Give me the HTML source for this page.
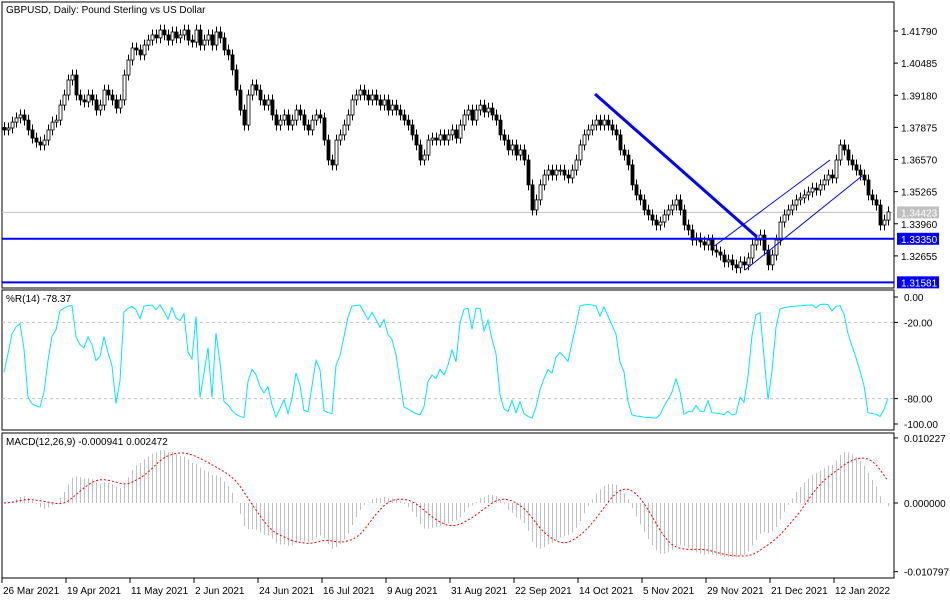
<!DOCTYPE html>
<html><head><meta charset="utf-8">
<style>
body{margin:0;background:#fff;}
svg{display:block;font-family:"Liberation Sans",sans-serif;font-size:10px;}
</style></head>
<body>
<svg id="c" width="950" height="600" viewBox="0 0 950 600" xmlns="http://www.w3.org/2000/svg">
<rect x="0" y="0" width="950" height="600" fill="#fff"/>
</svg>
<script>
const closes=[1.3777,1.3785,1.3809,1.3826,1.3838,1.3817,1.3777,1.3744,1.3728,1.3716,
1.3736,1.3777,1.3809,1.3817,1.3878,1.3919,1.3980,1.4000,1.3919,1.3899,
1.3891,1.3919,1.3899,1.3858,1.3878,1.3939,1.3919,1.3899,1.3866,1.3899,
1.4000,1.4061,1.4110,1.4102,1.4082,1.4122,1.4142,1.4163,1.4151,1.4183,
1.4163,1.4142,1.4175,1.4151,1.4163,1.4183,1.4142,1.4134,1.4183,1.4122,
1.4142,1.4163,1.4122,1.4175,1.4151,1.4102,1.4082,1.4021,1.3939,1.3858,
1.3797,1.3919,1.3960,1.3939,1.3899,1.3878,1.3899,1.3838,1.3797,1.3817,
1.3838,1.3797,1.3817,1.3858,1.3838,1.3797,1.3777,1.3817,1.3838,1.3826,
1.3736,1.3655,1.3635,1.3736,1.3757,1.3797,1.3838,1.3899,1.3919,1.3939,
1.3919,1.3899,1.3919,1.3899,1.3878,1.3899,1.3858,1.3878,1.3858,1.3838,
1.3817,1.3797,1.3757,1.3716,1.3655,1.3675,1.3736,1.3744,1.3736,1.3757,
1.3736,1.3757,1.3777,1.3744,1.3797,1.3838,1.3858,1.3817,1.3858,1.3878,
1.3850,1.3866,1.3838,1.3817,1.3757,1.3736,1.3696,1.3716,1.3675,1.3696,
1.3655,1.3554,1.3452,1.3493,1.3554,1.3594,1.3614,1.3594,1.3614,1.3614,
1.3594,1.3582,1.3614,1.3655,1.3716,1.3757,1.3777,1.3797,1.3817,1.3797,
1.3817,1.3797,1.3777,1.3757,1.3696,1.3675,1.3635,1.3554,1.3513,1.3493,
1.3452,1.3432,1.3411,1.3391,1.3403,1.3432,1.3452,1.3472,1.3493,1.3452,
1.3391,1.3371,1.3330,1.3338,1.3322,1.3310,1.3330,1.3289,1.3281,1.3269,
1.3241,1.3249,1.3229,1.3217,1.3241,1.3229,1.3257,1.3310,1.3330,1.3350,
1.3289,1.3229,1.3269,1.3330,1.3403,1.3432,1.3452,1.3472,1.3493,1.3501,
1.3513,1.3525,1.3541,1.3533,1.3554,1.3574,1.3594,1.3582,1.3655,1.3716,
1.3696,1.3655,1.3635,1.3614,1.3594,1.3574,1.3513,1.3493,1.3472,1.3391,
1.3411,1.3444];
const priceTicks=[1.41790,1.40485,1.39180,1.37875,1.36570,1.35265,1.33960,1.32655];
const dateLabels=["26 Mar 2021","19 Apr 2021","11 May 2021","2 Jun 2021","24 Jun 2021","16 Jul 2021","9 Aug 2021","31 Aug 2021","22 Sep 2021","14 Oct 2021","5 Nov 2021","29 Nov 2021","21 Dec 2021","12 Jan 2022"];
const wprTicks=[0,-20,-80,-100];
const macdTicks=[0.010227,0,-0.010797];
const levels=[1.33350,1.31581];
const lastPrice=1.34423;

const NS="http://www.w3.org/2000/svg";
const svg=document.getElementById('c');
function mk(t,a,p){const e=document.createElementNS(NS,t);for(const k in a)e.setAttribute(k,a[k]);(p||svg).appendChild(e);return e;}
const PR=894;
const xB=i=>4+4*i;
const yP=p=>31+(1.4179-p)*2462;
const yW=v=>297+(-v)*1.27;
const yM=v=>503-v*6360;

// panels
let g=mk('g',{});
mk('rect',{x:2,y:2,width:PR-2,height:286,fill:'none',stroke:'#000'},g);
let t=mk('text',{x:6,y:13,fill:'#000'},g);t.textContent='GBPUSD, Daily:  Pound Sterling vs US Dollar';

// last price line
let lp=mk('line',{x1:2,x2:PR,y1:yP(lastPrice),y2:yP(lastPrice),stroke:'#c0c0c0'},g);

// candles
const opens=closes.map((c,i)=>i?closes[i-1]:c+0.001);
closes.forEach((c,i)=>{
 const o=opens[i];const hi=Math.max(o,c)+0.0022,lo=Math.min(o,c)-0.0022;
 const x=xB(i);
 const cg=mk('g',{},g);
 
 mk('line',{x1:x+0.5,x2:x+0.5,y1:yP(hi),y2:yP(lo),stroke:'#000'},cg);
 const top=yP(Math.max(o,c)),h=Math.max(1,yP(Math.min(o,c))-top);
 mk('rect',{x:x-1,y:top,width:3,height:h,fill:c>=o?'#fff':'#000',stroke:'#000','stroke-width':0.8},cg);
});
// levels
levels.forEach(l=>{const e=mk('line',{x1:2,x2:PR,y1:yP(l),y2:yP(l),stroke:'#0000ff','stroke-width':2},g);
 });
let tl=mk('line',{x1:595,y1:94,x2:757,y2:237,stroke:'#0000ff','stroke-width':3},g);

let c1=mk('line',{x1:713,y1:247,x2:830,y2:160,stroke:'#0000ff','stroke-width':1},g);

let c2=mk('line',{x1:745,y1:270,x2:862,y2:176,stroke:'#0000ff','stroke-width':1},g);

// price axis
priceTicks.forEach(p=>{const y=yP(p);mk('line',{x1:PR,x2:PR+4,y1:y,y2:y,stroke:'#000'});
 const e=mk('text',{x:901,y:y+4,fill:'#000'});e.textContent=p.toFixed(5);
 });
function tag(p,bg,fg,name){const y=yP(p);const r=mk('rect',{x:897,y:y-6,width:42,height:12,fill:bg});
 
 const e=mk('text',{x:901,y:y+4,fill:fg});e.textContent=p.toFixed(5);
 }
tag(lastPrice,'#c0c0c0','#fff','last-price-tag');
tag(levels[0],'#0000ff','#fff','level-tag-1');
tag(levels[1],'#0000ff','#fff','level-tag-2');

// WPR
const N=14;const H=closes.map((c,i)=>Math.max(opens[i],c)+0.0022),L=closes.map((c,i)=>Math.min(opens[i],c)-0.0022);
const wpr=closes.map((c,i)=>{const s=Math.max(0,i-N+1);const hh=Math.max(...H.slice(s,i+1)),ll=Math.min(...L.slice(s,i+1));return hh===ll?-50:-100*(hh-c)/(hh-ll);});
let wg=mk('g',{});
mk('rect',{x:2,y:290,width:PR-2,height:140,fill:'none',stroke:'#000'},wg);
[-20,-80].forEach(v=>mk('line',{x1:2,x2:PR,y1:yW(v),y2:yW(v),stroke:'#c0c0c0','stroke-dasharray':'3,3'},wg));
let wl=mk('polyline',{points:wpr.map((v,i)=>xB(i)+','+yW(v)).join(' '),fill:'none',stroke:'#00e5ff','stroke-width':1},wg);

t=mk('text',{x:6,y:302,fill:'#000'},wg);t.textContent='%R(14) -78.37';

wprTicks.forEach(v=>{const y=yW(v);mk('line',{x1:PR,x2:PR+4,y1:y,y2:y,stroke:'#000'});
 const e=mk('text',{x:904,y:y+4,fill:'#000'});e.textContent=v.toFixed(2);
 });

// MACD
function ema(a,n){const k=2/(n+1);let r=[];a.forEach((v,i)=>r.push(i?v*k+r[i-1]*(1-k):v));return r;}
const e12=ema(closes,12),e26=ema(closes,26);
const macd=e12.map((v,i)=>v-e26[i]);
const sig=[];macd.forEach((v,i)=>{const s=Math.max(0,i-8);const sl=macd.slice(s,i+1);sig.push(sl.reduce((a,b)=>a+b,0)/sl.length);});
let mg=mk('g',{});
mk('rect',{x:2,y:433,width:PR-2,height:145,fill:'none',stroke:'#000'},mg);
macd.forEach((v,i)=>{const b=mk('line',{x1:xB(i)+0.5,x2:xB(i)+0.5,y1:yM(0),y2:yM(v),stroke:'#c0c0c0','stroke-width':1},mg);
 });
let sl=mk('polyline',{points:sig.map((v,i)=>xB(i)+','+yM(v)).join(' '),fill:'none',stroke:'#ff0000','stroke-width':1,'stroke-dasharray':'2,2'},mg);

t=mk('text',{x:6,y:445,fill:'#000'},mg);t.textContent='MACD(12,26,9) -0.000941 0.002472';

macdTicks.forEach(v=>{const y=yM(v);mk('line',{x1:PR,x2:PR+4,y1:y,y2:y,stroke:'#000'});
 const e=mk('text',{x:904,y:y+4,fill:'#000'});e.textContent=v.toFixed(6);
 });

// date axis
dateLabels.forEach((d,i)=>{const x=2+64*i;mk('line',{x1:x,x2:x,y1:578,y2:583,stroke:'#000'});
 const e=mk('text',{x:x+1,y:594,fill:'#000'});e.textContent=d;
 });
</script>
</body></html>
